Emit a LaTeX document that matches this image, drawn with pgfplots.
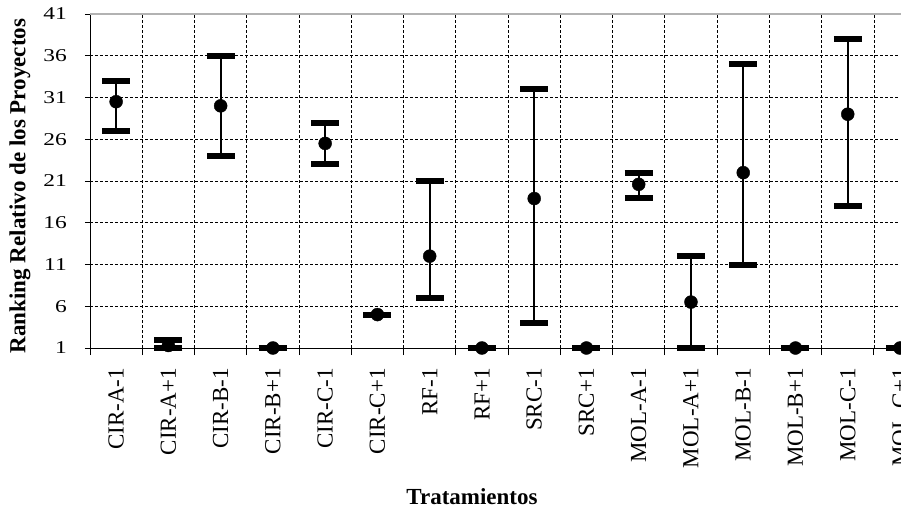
\documentclass[border=0pt]{standalone}
\usepackage{fontspec}
\setmainfont{Liberation Serif}
\usepackage{pgfplots}
\pgfplotsset{compat=1.18}
\usepackage{pgfplotstable}

\pgfplotstableread{
x y ep em
0 30.5 2.5 3.5
1 1.3 0.7 0.3
2 30 6 6
3 1 0 0
4 25.5 2.5 2.5
5 5 0 0
6 12 9 5
7 1 0 0
8 18.9 13.1 14.9
9 1 0 0
10 20.6 1.4 1.6
11 6.5 5.5 5.5
12 22 13 11
13 1 0 0
14 29 9 11
15 1 0 0
}\datatab

\begin{document}
\begin{tikzpicture}
\begin{axis}[
  name=ax, at={(0,0)}, anchor=south west,
  width=810pt, height=334pt, scale only axis,
  xmin=-0.5, xmax=15, ymin=1, ymax=41,
  clip=false,
  /pgf/number format/assume math mode=true,
  axis lines=left,
  axis line style={-, black, line width=0.8pt},
  tick align=outside,
  major tick length=5pt, minor tick length=7pt,
  tick style={black, line width=0.8pt},
  major x tick style={draw=none},
  xtick={0,...,15},
  xticklabels={CIR-A-1,CIR-A+1,CIR-B-1,CIR-B+1,CIR-C-1,CIR-C+1,RF-1,RF+1,SRC-1,SRC+1,MOL-A-1,MOL-A+1,MOL-B-1,MOL-B+1,MOL-C-1,MOL-C+1},
  minor xtick={-0.5,0.5,...,14.5},
  xminorgrids=true,
  ytick={1,6,...,41},
  ymajorgrids=true,
  major grid style={black, line width=0.7pt, dash pattern=on 3pt off 2pt},
  minor grid style={black, line width=0.7pt, dash pattern=on 3pt off 2pt},
  xticklabel style={rotate=90, anchor=east, inner sep=0pt, xshift=-15pt,
    font=\fontsize{23}{23}\selectfont},
  yticklabel style={anchor=east, inner sep=0pt, xshift=-18pt,
    font=\fontsize{18}{18}\selectfont, xscale=1.3},
  every axis x label/.style={at={(axis description cs:0.4716,0)}, anchor=north,
    inner sep=0pt, yshift=-140pt, font=\fontsize{23}{23}\selectfont\bfseries},
  every axis y label/.style={at={(axis description cs:-0.0864,0.485)}, anchor=center,
    rotate=90, inner sep=0pt, font=\fontsize{23}{23}\selectfont\bfseries},
  xlabel={Tratamientos},
  ylabel={Ranking Relativo de los Proyectos},
]
\draw[gray!60, line width=1.2pt] (rel axis cs:0,1) -- (rel axis cs:1.05,1);
\addplot[only marks, black, mark=*, mark size=6.5pt,
  error bars/.cd, y dir=both, y explicit,
  error bar style={line width=2pt, black},
  error mark options={rotate=90, mark size=14pt, line width=6pt, black}]
  table[x=x, y=y, y error plus=ep, y error minus=em] {\datatab};
\end{axis}
\pgfresetboundingbox
\path[use as bounding box] ([xshift=-90pt,yshift=-158pt]ax.south west) rectangle ([xshift=1pt,yshift=14pt]ax.north east);
\end{tikzpicture}
\end{document}
